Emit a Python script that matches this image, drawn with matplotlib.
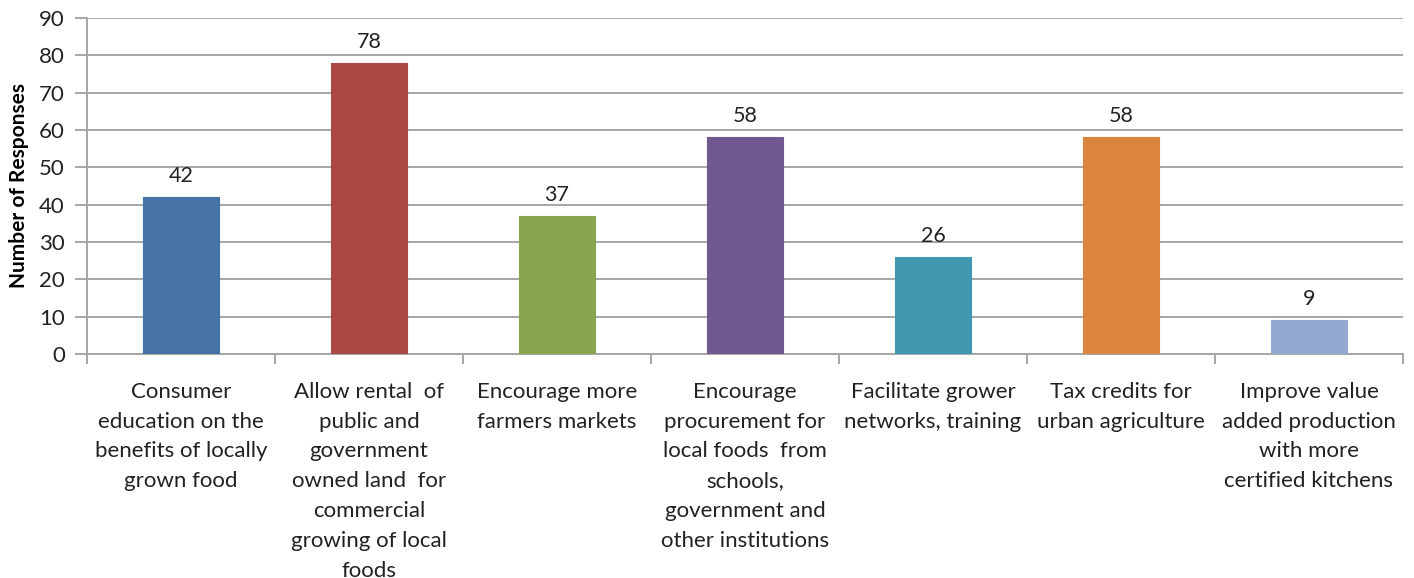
import matplotlib
matplotlib.use("Agg")
import matplotlib.pyplot as plt
from matplotlib.ticker import MultipleLocator, FixedLocator

categories = [
    "Consumer\neducation on the\nbenefits of locally\ngrown food",
    "Allow rental  of\npublic and\ngovernment\nowned land  for\ncommercial\ngrowing of local\nfoods",
    "Encourage more\nfarmers markets",
    "Encourage\nprocurement for\nlocal foods  from\nschools,\ngovernment and\nother institutions",
    "Facilitate grower\nnetworks, training",
    "Tax credits for\nurban agriculture",
    "Improve value\nadded production\nwith more\ncertified kitchens",
]
responses = [42, 78, 37, 58, 26, 58, 9]
colors = ["#4572A7", "#AA4643", "#89A54E", "#71588F", "#4198AF", "#DB843D", "#93A9CF"]

plt.rcParams["font.family"] = ["Lato", "DejaVu Sans"]

fig = plt.figure(figsize=(14.14, 5.78), dpi=100)
ax = fig.add_axes([87 / 1414, 1 - 354 / 578, (1403 - 87) / 1414, (354 - 18) / 578])

x = list(range(len(responses)))
ax.bar(x, responses, width=0.40, color=colors, zorder=3,
       edgecolor=colors, linewidth=0.8)

for xi, v in zip(x, responses):
    ax.text(xi, v + 3.0, str(v), ha="center", va="bottom", fontsize=15.5, color="#222222")

ax.set_xlim(-0.5, len(responses) - 0.5)
ax.set_ylim(0, 90)
ax.yaxis.set_major_locator(MultipleLocator(10))
ax.grid(axis="y", color="#A6A6A6", linewidth=1.4, zorder=0)
ax.set_axisbelow(True)

for s in ["top", "right"]:
    ax.spines[s].set_visible(False)
for s in ["left", "bottom"]:
    ax.spines[s].set_color("#A6A6A6")
    ax.spines[s].set_linewidth(1.4)

ax.tick_params(axis="y", direction="out", length=9, width=1.4, color="#A6A6A6",
               labelsize=16, labelcolor="#222222", pad=7)
# category boundary ticks on the x axis
ax.xaxis.set_major_locator(FixedLocator([i + 0.5 for i in range(-1, len(responses))]))
ax.tick_params(axis="x", direction="out", length=7, width=1.4, color="#A6A6A6",
               labelbottom=False)

for xi, lab in zip(x, categories):
    ax.text(xi, -7.4, lab, ha="center", va="top", fontsize=16, color="#222222",
            linespacing=1.62, transform=ax.transData, clip_on=False)

ax.set_ylabel("Number of Responses", fontsize=15, fontweight="bold", labelpad=7)

fig.savefig("out.png", dpi=100)
